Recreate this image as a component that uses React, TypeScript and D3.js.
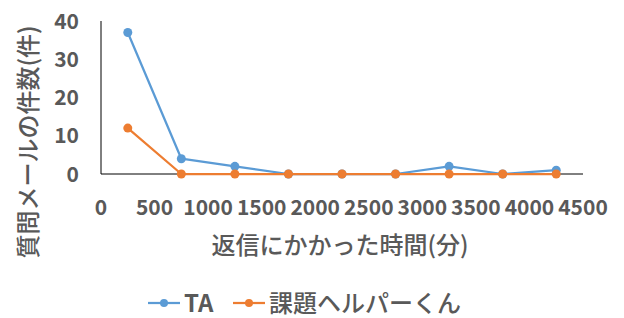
import React, { useEffect, useRef } from 'react';
import * as d3 from 'd3';

// Response time buckets (minutes) and counts per series
const responseMinutes = [250, 750, 1250, 1750, 2250, 2750, 3250, 3750, 4250];
const taCounts = [37, 4, 2, 0, 0, 0, 2, 0, 1];
const helperCounts = [12, 0, 0, 0, 0, 0, 0, 0, 0];
const xTicks = [0, 500, 1000, 1500, 2000, 2500, 3000, 3500, 4000, 4500];
const yTicks = [0, 10, 20, 30, 40];
const seriesNames = ['TA', '課題ヘルパーくん'];
const seriesColors = ['#5B9BD5', '#ED7D31'];

const FONT = '"Noto Sans CJK JP", "Noto Sans", sans-serif';
const TEXT_COLOR = '#595959';

const App = () => {
  const svgRef = useRef<SVGSVGElement>(null);

  useEffect(() => {
    if (!svgRef.current) return;
    const svg = d3.select(svgRef.current);
    svg.selectAll('*').remove();

    const x = d3.scaleLinear().domain([0, 4500]).range([101, 583]);
    const y = d3.scaleLinear().domain([0, 40]).range([174, 21]);

    // Axes: plain lines, no tick marks
    svg.append('line')
      .attr('x1', x(0)).attr('x2', x(0))
      .attr('y1', y(40)).attr('y2', y(0))
      .attr('stroke', '#000').attr('stroke-width', 1);
    svg.append('line')
      .attr('x1', x(0)).attr('x2', x(4500))
      .attr('y1', y(0)).attr('y2', y(0))
      .attr('stroke', '#000').attr('stroke-width', 1);

    // Tick labels
    svg.append('g').selectAll('text')
      .data(yTicks)
      .enter()
      .append('text')
      .attr('x', 79)
      .attr('y', d => y(d))
      .attr('dy', '0.36em')
      .attr('text-anchor', 'end')
      .attr('font-family', FONT)
      .attr('font-weight', 700)
      .attr('font-size', 21)
      .attr('fill', TEXT_COLOR)
      .text(d => d);

    svg.append('g').selectAll('text')
      .data(xTicks)
      .enter()
      .append('text')
      .attr('x', d => x(d))
      .attr('y', 207)
      .attr('dy', '0.36em')
      .attr('text-anchor', 'middle')
      .attr('font-family', FONT)
      .attr('font-weight', 700)
      .attr('font-size', 21)
      .attr('fill', TEXT_COLOR)
      .text(d => d);

    // Axis titles
    svg.append('text')
      .attr('transform', 'translate(28,142) rotate(-90)')
      .attr('dy', '0.36em')
      .attr('text-anchor', 'middle')
      .attr('font-family', FONT)
      .attr('font-weight', 500)
      .attr('font-size', 24)
      .attr('fill', TEXT_COLOR)
      .text('質問メールの件数(件)');

    svg.append('text')
      .attr('x', 340)
      .attr('y', 245)
      .attr('dy', '0.36em')
      .attr('text-anchor', 'middle')
      .attr('font-family', FONT)
      .attr('font-weight', 500)
      .attr('font-size', 24)
      .attr('fill', TEXT_COLOR)
      .text('返信にかかった時間(分)');

    // Series lines and markers
    const line = d3.line<number>()
      .x((_, i) => x(responseMinutes[i]))
      .y(d => y(d));

    [taCounts, helperCounts].forEach((values, s) => {
      const g = svg.append('g');
      g.append('path')
        .datum(values)
        .attr('d', line)
        .attr('fill', 'none')
        .attr('stroke', seriesColors[s])
        .attr('stroke-width', 2.25)
        .attr('stroke-linejoin', 'round');
      g.selectAll('circle')
        .data(values)
        .enter()
        .append('circle')
        .attr('cx', (_, i) => x(responseMinutes[i]))
        .attr('cy', d => y(d))
        .attr('r', 4.5)
        .attr('fill', seriesColors[s]);
    });

    // Legend
    const legendX = [148, 233];
    seriesNames.forEach((name, s) => {
      const lg = svg.append('g').attr('transform', `translate(${legendX[s]},303)`);
      lg.append('line')
        .attr('x1', 0).attr('x2', 32)
        .attr('y1', 0).attr('y2', 0)
        .attr('stroke', seriesColors[s])
        .attr('stroke-width', 2.25);
      lg.append('circle')
        .attr('cx', 16).attr('cy', 0).attr('r', 4)
        .attr('fill', seriesColors[s]);
      lg.append('text')
        .attr('x', 36)
        .attr('y', 0)
        .attr('dy', '0.36em')
        .attr('font-family', FONT)
        .attr('font-weight', s === 0 ? 700 : 500)
        .attr('font-size', 24)
        .attr('fill', TEXT_COLOR)
        .text(name);
    });
  }, []);

  return (
    <svg
      ref={svgRef}
      width={624}
      height={318}
      style={{ position: 'absolute', left: 0, top: 0, background: '#fff' }}
    />
  );
};

export default App;
